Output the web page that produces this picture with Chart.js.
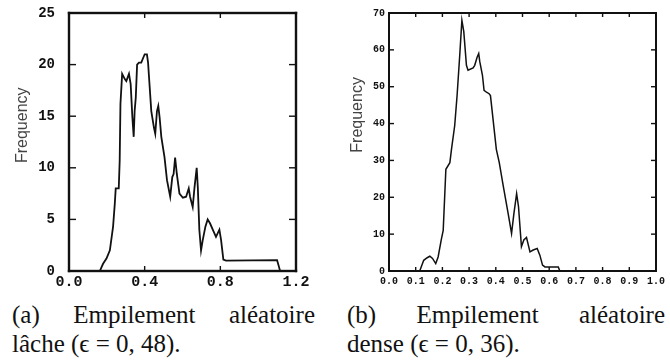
<!DOCTYPE html>
<html>
<head>
<meta charset="utf-8">
<script src="https://cdn.jsdelivr.net/npm/chart.js@4.4.0/dist/chart.umd.min.js"></script>
<style>
body { margin: 0; background: #fff; width: 670px; height: 362px; overflow: hidden; position: relative; }
canvas { position: absolute; top: 0; }
#loose { left: 0; }
#dense { left: 335px; }
.cap { position: absolute; font-family: "Liberation Serif", serif; font-size: 25px; line-height: 29px; color: #111; white-space: nowrap; }
.just { white-space: normal; text-align: justify; text-align-last: justify; }
</style>
</head>
<body>
<canvas id="loose" width="335" height="295"></canvas>
<canvas id="dense" width="335" height="295"></canvas>
<div class="cap just" style="left:12px; top:300px; width:303px;">(a) Empilement aléatoire</div>
<div class="cap" style="left:12px; top:329px;">lâche (ϵ = 0, 48).</div>
<div class="cap just" style="left:347px; top:300px; width:318px;">(b) Empilement aléatoire</div>
<div class="cap" style="left:347px; top:329px;">dense (ϵ = 0, 36).</div>
<script>
// (a) empilement lâche : porosité (x) et fréquence (y)
const looseX = [0.163, 0.18, 0.198, 0.216, 0.233, 0.242, 0.247, 0.263, 0.268, 0.272, 0.281, 0.295, 0.303, 0.317, 0.326,
    0.335, 0.342, 0.347, 0.353, 0.36, 0.37, 0.382, 0.4, 0.412, 0.418, 0.423, 0.435, 0.449, 0.456, 0.465, 0.472, 0.479,
    0.488, 0.505, 0.518, 0.535, 0.546, 0.553, 0.561, 0.57, 0.584, 0.602, 0.619, 0.633, 0.64, 0.654, 0.663, 0.675, 0.681,
    0.689, 0.698, 0.707, 0.721, 0.733, 0.746, 0.76, 0.777, 0.795, 0.804, 0.816, 0.83, 1.1, 1.11, 1.116];
const looseY = [0, 0.7, 1.2, 2, 4.3, 6.5, 8, 8, 10.7, 16.2, 19.1, 18.6, 18.4, 19.1, 18.1,
    14.9, 13, 15.5, 16.8, 20, 20.2, 20.2, 21, 21, 20.2, 18.8, 15.5, 13.9, 13.3, 15.5, 16, 14.9,
    13, 11, 8.8, 7.2, 9.1, 9.4, 11, 9.4, 7.5, 7.1, 7.2, 8, 7.2, 6.2, 8, 10, 8.1,
    4, 2, 3, 4.3, 5, 4.6, 4, 3.3, 4, 3, 1.1, 1, 1.05, 0.4, 0];

// (b) empilement dense
const denseX = [0, 0.115, 0.13, 0.143, 0.153, 0.163, 0.175, 0.184, 0.196, 0.203, 0.213, 0.228, 0.234, 0.246, 0.255,
    0.265, 0.273, 0.28, 0.29, 0.296, 0.315, 0.321, 0.33, 0.336, 0.34, 0.35, 0.356, 0.365, 0.375, 0.38, 0.402,
    0.413, 0.428, 0.446, 0.459, 0.468, 0.478, 0.485, 0.496, 0.505, 0.515, 0.528, 0.54, 0.555, 0.565, 0.575,
    0.584, 0.603, 0.634, 0.64, 1.0];
const denseY = [0, 0, 2.9, 3.6, 4, 3.4, 2, 3.8, 8.6, 11, 27.6, 29.4, 33, 39.4, 47.6,
    58.6, 68, 65, 55.8, 54.5, 55.1, 55.8, 58, 59, 56.8, 53.1, 49, 48.5, 48.1, 47.6, 33,
    29.4, 23, 15.7, 10.2, 15.7, 21, 17.5, 6.6, 8.4, 9.1, 5.2, 5.7, 6.1, 4.3, 1.6,
    1.1, 1.1, 1.1, 0, 0];

const yTitle = 'Frequency';

// Cadre, graduations vers l'intérieur et titre de l'axe y
function makeFrame(cfg) {
    return {
        id: 'frame',
        afterDraw(chart) {
            const ctx = chart.ctx;
            const a = chart.chartArea;
            const x = chart.scales.x;
            const y = chart.scales.y;
            const w = cfg.frameWidth;
            ctx.save();
            ctx.fillStyle = '#111';
            ctx.fillRect(a.left - w / 2, a.top - w / 2, a.right - a.left + w, w);
            ctx.fillRect(a.left - w / 2, a.bottom - w / 2, a.right - a.left + w, w);
            ctx.fillRect(a.left - w / 2, a.top - w / 2, w, a.bottom - a.top + w);
            ctx.fillRect(a.right - w / 2, a.top - w / 2, w, a.bottom - a.top + w);
            x.ticks.forEach(t => {
                const px = x.getPixelForValue(t.value);
                ctx.fillRect(px - 0.7, a.bottom - cfg.xTick, 1.4, cfg.xTick);
                ctx.fillRect(px - 0.7, a.top, 1.4, cfg.xTick);
            });
            y.ticks.forEach(t => {
                const py = y.getPixelForValue(t.value);
                ctx.fillRect(a.left, py - 0.7, cfg.yTick, 1.4);
                ctx.fillRect(a.right - cfg.yTick, py - 0.7, cfg.yTick, 1.4);
            });
            ctx.translate(23, a.top + cfg.titlePos * (a.bottom - a.top));
            ctx.rotate(-Math.PI / 2);
            ctx.fillStyle = '#444';
            ctx.font = '16px "Liberation Sans"';
            ctx.textAlign = 'center';
            ctx.textBaseline = 'middle';
            ctx.fillText(yTitle, 0, 0);
            ctx.restore();
        }
    };
}

function plotHistogram(canvasId, xs, ys, cfg) {
    const data = xs.map((x, i) => ({ x: x, y: ys[i] }));

    new Chart(document.getElementById(canvasId), {
        type: 'line',
        data: {
            datasets: [{
                data: data,
                borderColor: '#111',
                borderWidth: cfg.lineWidth,
                pointRadius: 0,
                tension: 0,
                fill: false
            }]
        },
        options: {
            responsive: false,
            animation: false,
            layout: { padding: { left: 0, top: 13, right: cfg.padRight, bottom: 0 } },
            plugins: {
                legend: { display: false },
                tooltip: { enabled: false }
            },
            scales: {
                x: {
                    type: 'linear',
                    min: 0,
                    max: cfg.xMax,
                    afterFit: s => { s.height = 24; },
                    grid: { display: false, drawTicks: false },
                    border: { display: false },
                    ticks: {
                        stepSize: cfg.xStep,
                        autoSkip: false,
                        maxRotation: 0,
                        padding: cfg.xPad,
                        color: '#111',
                        font: { family: 'Liberation Mono', size: cfg.xFont, weight: 'bold' },
                        callback: v => v.toFixed(1)
                    }
                },
                y: {
                    type: 'linear',
                    min: 0,
                    max: cfg.yMax,
                    afterFit: s => { s.width = cfg.axisWidth; },
                    grid: { display: false, drawTicks: true, tickLength: cfg.yGap - 2 },
                    border: { display: false },
                    ticks: {
                        stepSize: cfg.yStep,
                        padding: 2,
                        color: '#111',
                        font: { family: 'Liberation Mono', size: cfg.yFont, weight: 'bold' }
                    }
                }
            }
        },
        plugins: [makeFrame(cfg)]
    });
}

plotHistogram('loose', looseX, looseY, {
    xMax: 1.2, xStep: 0.4, yMax: 25, yStep: 5,
    axisWidth: 69, padRight: 39, yGap: 14, xPad: 2, xFont: 15, yFont: 14,
    lineWidth: 1.8, frameWidth: 2.4, xTick: 5, yTick: 7, titlePos: 0.435
});

plotHistogram('dense', denseX, denseY, {
    xMax: 1.0, xStep: 0.1, yMax: 70, yStep: 10,
    axisWidth: 54, padRight: 14, yGap: 4, xPad: 4, xFont: 10, yFont: 10,
    lineWidth: 1.5, frameWidth: 2, xTick: 4, yTick: 5, titlePos: 0.395
});
</script>
</body>
</html>
